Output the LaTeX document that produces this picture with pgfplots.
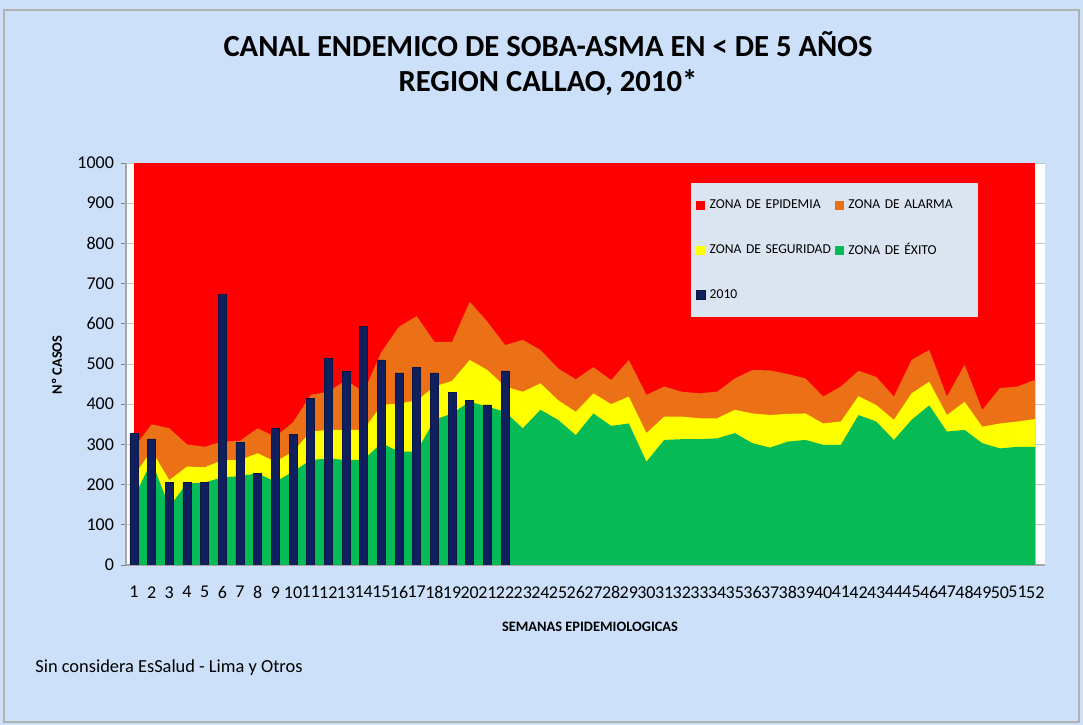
\documentclass[border=0pt]{standalone}
\usepackage{fontspec}
\setmainfont{Carlito}
\usepackage{pgfplots}
\usepackage{pgfplotstable}
\pgfplotsset{compat=1.18}

\definecolor{bgblue}{RGB}{204,224,250}
\definecolor{zred}{RGB}{255,0,0}
\definecolor{zorange}{RGB}{236,112,22}
\definecolor{zyellow}{RGB}{255,255,0}
\definecolor{zgreen}{RGB}{6,186,86}
\definecolor{navy}{RGB}{16,32,94}
\definecolor{legbg}{RGB}{219,229,242}

% cumulative upper limits of each zone: G = exito, Y = seguridad, O = alarma
\pgfplotstableread{
w G Y O
1 168 222 292
2 258 285 350
3 145 211 340
4 203 245 300
5 205 243 294
6 218 261 307
7 221 261 309
8 228 278 340
9 207 257 319
10 232 282 355
11 261 332 423
12 265 336 431
13 261 336 460
14 262 336 430
15 303 398 530
16 282 402 593
17 282 409 619
18 361 444 555
19 377 458 555
20 406 510 655
21 394 485 605
22 381 444 547
23 340 431 560
24 386 452 535
25 361 410 489
26 323 381 462
27 377 427 492
28 346 400 460
29 352 419 510
30 257 328 423
31 311 369 444
32 313 369 431
33 313 365 427
34 315 365 431
35 328 386 464
36 303 377 485
37 292 373 484
38 307 376 475
39 311 377 464
40 299 352 419
41 299 357 444
42 373 420 483
43 357 398 468
44 311 361 419
45 361 427 510
46 397 456 535
47 332 373 419
48 336 406 498
49 303 344 386
50 290 352 440
51 294 357 444
52 294 363 461
}\zones

\pgfplotstableread{
w c
1 327
2 314
3 205
4 205
5 205
6 674
7 305
8 228
9 340
10 324
11 414
12 514
13 481
14 593
15 510
16 478
17 492
18 478
19 430
20 409
21 398
22 483
}\casos

\begin{document}
\begin{tikzpicture}
\fill[bgblue] (0,0) rectangle (812.25pt,543.75pt);
\draw[gray!60, line width=1.5pt] (3pt,2pt) rectangle (809pt,536pt);
\useasboundingbox (0,0) rectangle (812.25pt,543.75pt);

\node[font=\fontsize{23}{26}\selectfont\bfseries] at (411pt,510.5pt) {CANAL ENDEMICO DE SOBA-ASMA EN < DE 5 AÑOS};
\node[font=\fontsize{23}{26}\selectfont\bfseries] at (411pt,481.5pt) {REGION CALLAO, 2010*};

\node[font=\fontsize{10.8}{12}\selectfont\bfseries] at (442.5pt,73.5pt) {SEMANAS EPIDEMIOLOGICAS};
\node[font=\fontsize{10.8}{12}\selectfont\bfseries, rotate=90] at (42.75pt,270pt) {Nº CASOS};
\node[font=\fontsize{13.8}{16}\selectfont, anchor=west] at (23pt,42.75pt) {Sin considera EsSalud - Lima y Otros};

\begin{axis}[
  at={(94.5pt,120pt)}, anchor=south west,
  scale only axis, width=689.25pt, height=301.5pt,
  xmin=0.55, xmax=52.55, ymin=0, ymax=1000,
  xtick={1,...,52}, ytick={0,100,...,1000},
  /pgf/number format/assume math mode=true,
  /pgf/number format/1000 sep={},
  tick label style={font=\fontsize{13.5}{15}\selectfont},
  xtick style={draw=none},
  ytick style={gray, line width=0.6pt},
  tick align=outside, major tick length=4pt,
  xticklabel style={yshift=-8.5pt},
  yticklabel style={xshift=-1.5pt},
  axis x line*=bottom, axis y line*=left,
  axis line style={gray!70, line width=0.8pt},
  ymajorgrids, grid style={gray!45, line width=0.6pt},
  axis background/.style={fill=white},
  legend image code/.code={\fill[#1] (0pt,-3.5pt) rectangle (7pt,3.5pt);},
  legend columns=2,
  legend style={at={(0.614,0.95)}, anchor=north west, fill=legbg, draw=none,
    font=\fontsize{10.2}{12}\selectfont, row sep=20.5pt, column sep=1pt,
    inner xsep=4pt, inner ysep=10.5pt,
    nodes={text width=91pt, align=left}},
]
\addplot[fill=zred, draw=none] coordinates {(1,1000) (52,1000)} \closedcycle;
\addlegendentry{ZONA DE EPIDEMIA}
\addplot[fill=zorange, draw=none] table[x=w, y=O] {\zones} \closedcycle;
\addlegendentry{ZONA DE ALARMA}
\addplot[fill=zyellow, draw=none] table[x=w, y=Y] {\zones} \closedcycle;
\addlegendentry{ZONA DE SEGURIDAD}
\addplot[fill=zgreen, draw=none] table[x=w, y=G] {\zones} \closedcycle;
\addlegendentry{ZONA DE ÉXITO}
\addplot[ybar, bar width=6pt, fill=navy, draw=navy!70!black] table[x=w, y=c] {\casos};
\addlegendentry{2010}
\end{axis}
\end{tikzpicture}
\end{document}
